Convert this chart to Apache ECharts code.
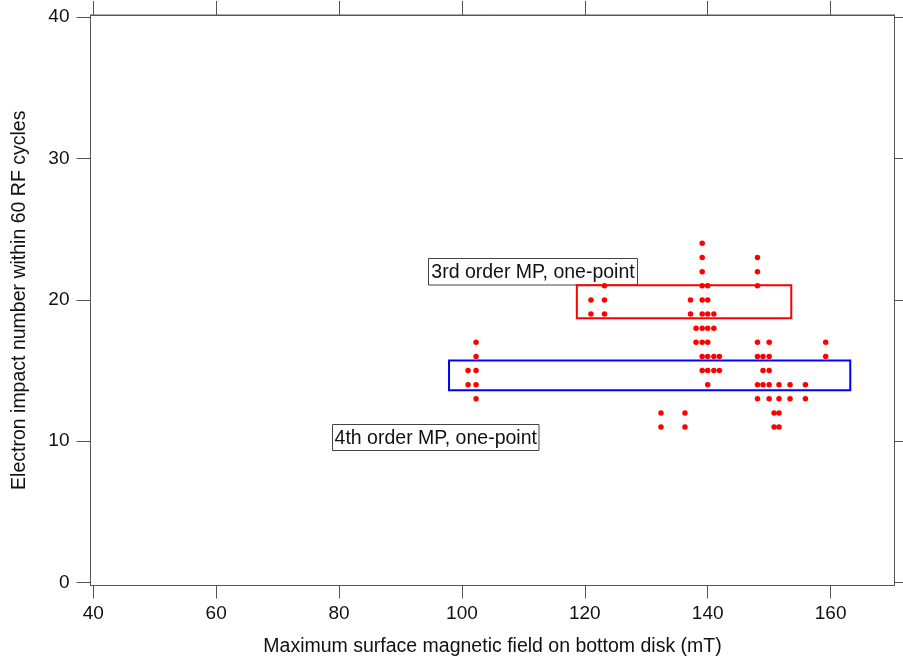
<!DOCTYPE html>
<html>
<head>
	<meta charset="utf-8">
	<title>Electron impacts</title>
	<script src="https://cdn.jsdelivr.net/npm/echarts@6/dist/echarts.min.js"></script>
</head>
<body style="margin:0">
<div style="width:903px;height:656px;" id="chart"></div>
<script>
// tick labels
var xTicks = [40, 60, 80, 100, 120, 140, 160];
var yTicks = [0, 10, 20, 30, 40];

// field values (mT) and impact counts, one entry per point
var fieldMT = [
    101.0, 101.0,
    102.3, 102.3, 102.3, 102.3, 102.3,
    121.0, 121.0,
    123.2, 123.2, 123.2,
    132.4, 132.4,
    136.3, 136.3,
    137.2, 137.2,
    138.1, 138.1,
    139.1, 139.1, 139.1, 139.1, 139.1, 139.1, 139.1, 139.1, 139.1, 139.1,
    140.0, 140.0, 140.0, 140.0, 140.0, 140.0, 140.0, 140.0,
    141.0, 141.0, 141.0, 141.0,
    141.9, 141.9,
    148.1, 148.1, 148.1, 148.1, 148.1, 148.1, 148.1,
    149.0, 149.0, 149.0,
    150.0, 150.0, 150.0, 150.0, 150.0,
    150.8, 150.8,
    151.6, 151.6, 151.6, 151.6,
    153.4, 153.4,
    155.9, 155.9,
    159.2, 159.2
];
var impacts = [
    15, 14,
    17, 16, 15, 14, 13,
    20, 19,
    21, 20, 19,
    12, 11,
    12, 11,
    20, 19,
    18, 17,
    24, 23, 22, 21, 20, 19, 18, 17, 16, 15,
    21, 20, 19, 18, 17, 16, 15, 14,
    19, 18, 16, 15,
    16, 15,
    23, 22, 21, 17, 16, 14, 13,
    16, 15, 14,
    17, 16, 15, 14, 13,
    12, 11,
    14, 13, 12, 11,
    14, 13,
    14, 13,
    17, 16
];

// boxes: [x1, y1, x2, y2]
var box3rd = [118.7, 21.04, 153.6, 18.71];
var box4th = [97.9, 15.71, 163.2, 13.61];

var points = [];
for (var i = 0; i < fieldMT.length; i++) {
    points.push([fieldMT[i], impacts[i]]);
}

var font = 'Liberation Sans, Arial, sans-serif';
var myChart = echarts.init(document.getElementById('chart'));

function labelBox(x, y, w, h, txt) {
    return {
        type: 'group', z: 100,
        children: [{
            type: 'rect',
            shape: {x: x, y: y, width: w, height: h},
            style: {fill: '#fff', stroke: '#444', lineWidth: 1}
        }, {
            type: 'text',
            x: x + w / 2, y: y + h / 2 + 1,
            style: {text: txt, font: '19.5px ' + font, fill: '#111', align: 'center', verticalAlign: 'middle'}
        }]
    };
}

var axisCol = '#555';
var option = {
    animation: false,
    backgroundColor: '#fff',
    grid: {left: 90.5, right: 8.5, top: 15, bottom: 70.5, containLabel: false, outerBoundsMode: 'none',
        show: true, borderColor: axisCol, borderWidth: 1},
    xAxis: [{
        type: 'value', min: 39.55, max: 170.4,
        name: 'Maximum surface magnetic field on bottom disk (mT)',
        nameLocation: 'middle', nameGap: 51,
        nameTextStyle: {fontFamily: font, fontSize: 19.5, color: '#111'},
        splitLine: {show: false},
        axisLine: {show: true, onZero: false, lineStyle: {color: axisCol}},
        axisTick: {show: true, length: 13, customValues: xTicks, lineStyle: {color: axisCol}},
        axisLabel: {customValues: xTicks, fontFamily: font, fontSize: 19, color: '#111', margin: 19}
    }, {
        type: 'value', position: 'top', min: 39.55, max: 170.4,
        splitLine: {show: false},
        axisLine: {show: true, onZero: false, lineStyle: {color: axisCol}},
        axisTick: {show: true, length: 14, customValues: xTicks, lineStyle: {color: axisCol}},
        axisLabel: {show: false}
    }],
    yAxis: [{
        type: 'value', min: -0.21, max: 40.16,
        name: 'Electron impact number within 60 RF cycles',
        nameLocation: 'middle', nameGap: 61,
        nameTextStyle: {fontFamily: font, fontSize: 19.5, color: '#111'},
        splitLine: {show: false},
        axisLine: {show: true, onZero: false, lineStyle: {color: axisCol}},
        axisTick: {show: true, length: 14, customValues: yTicks, lineStyle: {color: axisCol}},
        axisLabel: {customValues: yTicks, fontFamily: font, fontSize: 19, color: '#111', margin: 21}
    }, {
        type: 'value', position: 'right', min: -0.21, max: 40.16,
        splitLine: {show: false},
        axisLine: {show: true, onZero: false, lineStyle: {color: axisCol}},
        axisTick: {show: true, length: 9, customValues: yTicks, lineStyle: {color: axisCol}},
        axisLabel: {show: false}
    }],
    series: [{
        type: 'scatter',
        symbolSize: 5.5,
        itemStyle: {color: '#ff0000', opacity: 1},
        data: points,
        markArea: {
            silent: true,
            data: [
                [{coord: [box3rd[0], box3rd[1]], itemStyle: {color: 'rgba(0,0,0,0)', borderColor: '#ff0000', borderWidth: 2}},
                 {coord: [box3rd[2], box3rd[3]]}],
                [{coord: [box4th[0], box4th[1]], itemStyle: {color: 'rgba(0,0,0,0)', borderColor: '#0000ff', borderWidth: 2}},
                 {coord: [box4th[2], box4th[3]]}]
            ]
        }
    }],
    graphic: [
        labelBox(428.5, 258.5, 209, 26.5, '3rd order MP, one-point'),
        labelBox(332.5, 424.5, 206.5, 26, '4th order MP, one-point')
    ]
};
myChart.setOption(option);
</script>
</body>
</html>
